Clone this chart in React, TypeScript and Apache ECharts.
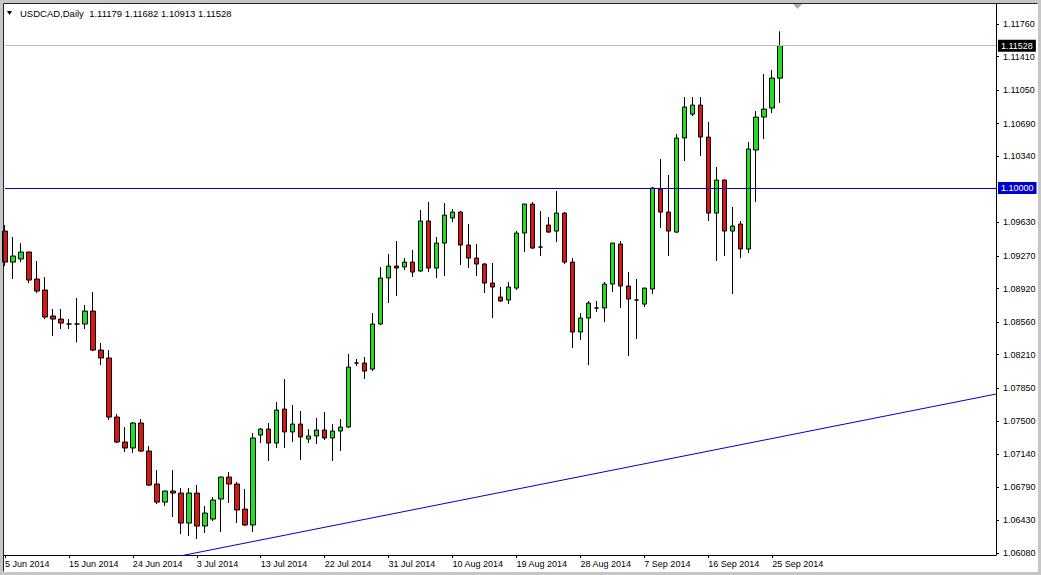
import { useEffect, useRef } from "react";
import * as echarts from "echarts";

// Trading days (MT4 daily bars, Sunday–Friday sessions)
const junDays = [5, 6, 8, 9, 10, 11, 12, 13, 15, 16, 17, 18, 19, 20, 22, 23, 24, 25, 26, 27, 29, 30];
const julDays = [1, 2, 3, 4, 6, 7, 8, 9, 10, 11, 13, 14, 15, 16, 17, 18, 20, 21, 22, 23, 24, 25, 27, 28, 29, 30, 31];
const augDays = [1, 3, 4, 5, 6, 7, 8, 10, 11, 12, 13, 14, 15, 17, 18, 19, 20, 21, 22, 24, 25, 26, 27, 28, 29, 31];
const sepDays = [1, 2, 3, 4, 5, 7, 8, 9, 10, 11, 12, 14, 15, 16, 17, 18, 19, 21, 22, 23, 24, 25, 26];

const dates: string[] = [
  ...junDays.map((d) => `${d} Jun 2014`),
  ...julDays.map((d) => `${d} Jul 2014`),
  ...augDays.map((d) => `${d} Aug 2014`),
  ...sepDays.map((d) => `${d} Sep 2014`),
];
const futureSlots = 27;

const opens = [
  1.09537, 1.09204, 1.09237, 1.09312, 1.09022, 1.08904, 1.08625, 1.08592, 1.08539, 1.08539,
  1.08539, 1.08678, 1.08259, 1.08174, 1.0754, 1.07272, 1.07208, 1.07476, 1.07175, 1.06821,
  1.06627, 1.06746, 1.06724, 1.06402, 1.06724, 1.0637, 1.06445, 1.0666, 1.06896, 1.06821,
  1.06552, 1.06381, 1.07347, 1.07411, 1.07261, 1.07626, 1.0738, 1.07465, 1.07304, 1.07337,
  1.07401, 1.07315, 1.0739, 1.07433, 1.0812, 1.0812, 1.08055, 1.08539, 1.09033, 1.09161,
  1.09151, 1.09204, 1.09108, 1.09645, 1.0914, 1.09408, 1.09677, 1.09741, 1.09387, 1.09247,
  1.09183, 1.08979, 1.08829, 1.08797, 1.08925, 1.09516, 1.09827, 1.09365, 1.09602, 1.09537,
  1.0973, 1.09204, 1.08453, 1.08603, 1.08711, 1.08711, 1.08968, 1.09398, 1.08947, 1.08797,
  1.08753, 1.08915, 1.09988, 1.09741, 1.09526, 1.10536, 1.10793, 1.1089, 1.10546, 1.0973,
  1.10085, 1.09537, 1.09612, 1.09344, 1.10407, 1.10761, 1.10858, 1.11179,
];
const closes = [
  1.09204, 1.09269, 1.09312, 1.09011, 1.08893, 1.08614, 1.08592, 1.08549, 1.08539, 1.08539,
  1.08678, 1.08259, 1.08174, 1.0754, 1.07272, 1.07208, 1.07476, 1.07175, 1.0681, 1.06627,
  1.06746, 1.06724, 1.06402, 1.06724, 1.0637, 1.06509, 1.06649, 1.06896, 1.06821, 1.06542,
  1.06381, 1.07315, 1.07411, 1.07261, 1.07616, 1.0738, 1.07465, 1.07326, 1.07337, 1.07401,
  1.07315, 1.0739, 1.07433, 1.08077, 1.0812, 1.08034, 1.08539, 1.09033, 1.09161, 1.0914,
  1.09204, 1.09097, 1.09645, 1.0914, 1.09408, 1.09709, 1.09741, 1.09387, 1.09247, 1.09183,
  1.08979, 1.08936, 1.08786, 1.08936, 1.09516, 1.09827, 1.09355, 1.09365, 1.09526, 1.0973,
  1.09204, 1.08453, 1.08603, 1.08764, 1.08711, 1.08968, 1.09408, 1.08947, 1.08807, 1.08797,
  1.08925, 1.09999, 1.09741, 1.09537, 1.10536, 1.10869, 1.1089, 1.10546, 1.0973, 1.10085,
  1.09537, 1.09591, 1.09344, 1.10418, 1.10761, 1.10847, 1.1118, 1.11528,
];
const lows = [
  1.09161, 1.09022, 1.09204, 1.08979, 1.08872, 1.08592, 1.0841, 1.08485, 1.08485, 1.08341,
  1.08485, 1.08249, 1.08098, 1.07508, 1.07261, 1.07165, 1.07154, 1.07165, 1.068, 1.06606,
  1.06585, 1.06467, 1.06284, 1.06263, 1.0623, 1.06295, 1.06424, 1.06306, 1.06617, 1.06402,
  1.0637, 1.06306, 1.07261, 1.07068, 1.07208, 1.07208, 1.07272, 1.07079, 1.07261, 1.07251,
  1.07294, 1.07068, 1.07175, 1.07422, 1.08088, 1.07949, 1.08034, 1.08528, 1.08764, 1.08839,
  1.09118, 1.09043, 1.09097, 1.09097, 1.09033, 1.09054, 1.09634, 1.09172, 1.0914, 1.09054,
  1.08872, 1.08603, 1.08775, 1.08753, 1.08904, 1.09312, 1.09344, 1.09269, 1.0952, 1.09419,
  1.09183, 1.08281, 1.08367, 1.08098, 1.08668, 1.0856, 1.08882, 1.08711, 1.08195, 1.08378,
  1.08721, 1.08861, 1.09569, 1.09269, 1.09516, 1.10289, 1.10772, 1.10343, 1.09645, 1.09215,
  1.09269, 1.08861, 1.09247, 1.09301, 1.09849, 1.10525, 1.10804, 1.10913,
];
const highs = [
  1.09602, 1.09473, 1.09408, 1.09315, 1.09215, 1.09043, 1.087, 1.087, 1.08592, 1.08818,
  1.08743, 1.08882, 1.08335, 1.08259, 1.07573, 1.07433, 1.07487, 1.07519, 1.07229, 1.06971,
  1.0675, 1.06971, 1.06778, 1.06778, 1.0681, 1.06585, 1.06681, 1.069, 1.0695, 1.06842,
  1.06767, 1.07369, 1.07422, 1.07476, 1.07702, 1.07949, 1.07669, 1.07605, 1.07411, 1.0753,
  1.07594, 1.07465, 1.07519, 1.08217, 1.08163, 1.08185, 1.08657, 1.09151, 1.0929, 1.0943,
  1.09247, 1.09334, 1.09763, 1.09849, 1.09473, 1.09838, 1.09773, 1.09752, 1.09612, 1.09398,
  1.09194, 1.09194, 1.08936, 1.0899, 1.09537, 1.0983, 1.09849, 1.09752, 1.09688, 1.09967,
  1.09741, 1.09247, 1.08657, 1.08786, 1.08786, 1.0899, 1.0941, 1.0943, 1.09097, 1.09022,
  1.08928, 1.1001, 1.1031, 1.10139, 1.10579, 1.10976, 1.10976, 1.10976, 1.10708, 1.10225,
  1.1009, 1.09795, 1.09645, 1.10493, 1.10826, 1.11223, 1.11266, 1.11682,
];

const yTicks = [
  1.0608, 1.0643, 1.0679, 1.0714, 1.075, 1.0785, 1.0821, 1.0856, 1.0892, 1.0927, 1.0963,
  1.1034, 1.1069, 1.1105, 1.1141, 1.1176,
];
const yMin = 1.06059;
const yMax = 1.11975;
const levelPrice = 1.1;
const bidPrice = 1.11528;
const trendPoints = [
  [22, 1.0605],
  [124, 1.07787],
];
const symbolTitle = "USDCAD,Daily";
const lastBar = [1.11179, 1.11682, 1.10913, 1.11528];

const FONT = "'Liberation Sans', Arial, sans-serif";
const BULL = "#1fdf1f";
const BEAR = "#dc1414";
const BLUE = "#0000cd";

const priceLabel = (bg: string, text: string) => ({
  show: true,
  position: "end",
  distance: 2,
  formatter: text,
  backgroundColor: bg,
  color: "#fff",
  padding: [2, 3, 1, 3],
  fontSize: 9,
  fontFamily: FONT,
});

export default function App() {
  const ref = useRef<HTMLDivElement>(null);

  useEffect(() => {
    if (!ref.current) return;
    const chart = echarts.init(ref.current, null, { renderer: "svg" });

    const categories = [...dates, ...Array.from({ length: futureSlots }, () => "")];
    const candles = opens.map((o, i) => [o, closes[i], lows[i], highs[i]]);
    const showLabel = (i: number) => i % 8 === 0 && i < dates.length;

    const option: any = {
      animation: false,
      backgroundColor: "#c6c6c6",
      textStyle: { fontFamily: FONT },
      grid: { left: 5, top: 4, width: 991, height: 551, containLabel: false },
      xAxis: {
        type: "category",
        data: categories,
        boundaryGap: false,
        axisLine: { show: true, lineStyle: { color: "#000", width: 1 } },
        axisTick: { show: true, length: 3, interval: showLabel, lineStyle: { color: "#000" } },
        axisLabel: {
          interval: showLabel,
          align: "left",
          margin: 4,
          color: "#000",
          fontSize: 9,
          fontFamily: FONT,
        },
        splitLine: { show: false },
      },
      yAxis: {
        type: "value",
        position: "right",
        min: yMin,
        max: yMax,
        axisLine: { show: true, onZero: false, lineStyle: { color: "#000", width: 1 } },
        axisTick: { show: true, length: 3, customValues: yTicks, lineStyle: { color: "#000" } },
        axisLabel: {
          customValues: yTicks,
          formatter: (v: number) => v.toFixed(5),
          margin: 7,
          color: "#000",
          fontSize: 9,
          fontFamily: FONT,
        },
        splitLine: { show: false },
      },
      series: [
        {
          type: "candlestick",
          data: candles,
          barWidth: 5,
          clip: true,
          z: 3,
          itemStyle: {
            color: BULL,
            color0: BEAR,
            borderColor: "#000",
            borderColor0: "#000",
            borderColorDoji: "#000",
            borderWidth: 1,
          },
          markLine: {
            silent: true,
            precision: 5,
            symbol: ["none", "none"],
            animation: false,
            data: [
              {
                yAxis: levelPrice,
                lineStyle: { color: BLUE, width: 1, type: "solid" },
                label: priceLabel(BLUE, levelPrice.toFixed(5)),
              },
            ],
          },
        },
        {
          type: "line",
          data: trendPoints,
          symbol: "none",
          clip: true,
          lineStyle: { color: BLUE, width: 1 },
          z: 2,
          markLine: {
            silent: true,
            precision: 5,
            symbol: ["none", "none"],
            animation: false,
            data: [
              {
                yAxis: bidPrice,
                lineStyle: { color: "#bcbcbc", width: 1, type: "solid" },
                label: priceLabel("#000", bidPrice.toFixed(5)),
              },
            ],
          },
        },
      ],
      graphic: [
        { type: "rect", z: -10, silent: true, shape: { x: 3, y: 3, width: 1035, height: 569 }, style: { fill: "#fff" } },
        { type: "line", z: 50, silent: true, shape: { x1: 3.5, y1: 3.5, x2: 1037.5, y2: 3.5 }, style: { stroke: "#222", lineWidth: 1 } },
        { type: "line", z: 50, silent: true, shape: { x1: 3.5, y1: 3.5, x2: 3.5, y2: 571.5 }, style: { stroke: "#222", lineWidth: 1 } },
        { type: "line", z: 50, silent: true, shape: { x1: 3.5, y1: 555.5, x2: 6, y2: 555.5 }, style: { stroke: "#000", lineWidth: 1 } },
        { type: "polygon", z: 50, silent: true, shape: { points: [[7, 11], [12, 11], [9.5, 15]] }, style: { fill: "#000" } },
        { type: "polygon", z: 50, silent: true, shape: { points: [[793, 4], [802, 4], [797.5, 9]] }, style: { fill: "#a8a8a8" } },
        {
          type: "text",
          z: 50,
          silent: true,
          x: 20,
          y: 8,
          style: {
            text: `${symbolTitle}  ${lastBar.map((v) => v.toFixed(5)).join(" ")}`,
            fill: "#000",
            font: `9.5px ${FONT}`,
          },
        },
      ],
    };

    chart.setOption(option);
    return () => chart.dispose();
  }, []);

  return (
    <div
      ref={ref}
      style={{ position: "absolute", left: 0, top: 0, width: 1041, height: 575 }}
    />
  );
}
